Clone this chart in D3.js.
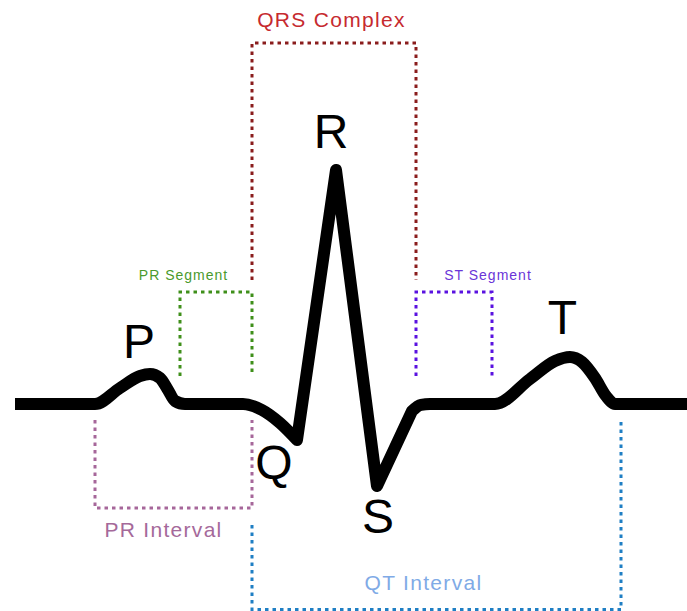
<!DOCTYPE html>
<html>
<head>
<meta charset="utf-8">
<script src="https://cdn.jsdelivr.net/npm/d3@7"></script>
<style>
  html, body { margin: 0; padding: 0; background: #ffffff; }
  svg { display: block; }
  text { font-family: "Liberation Sans", Arial, Helvetica, sans-serif; }
</style>
</head>
<body>
<script>
// ---- Data (time in ms, amplitude in mV) ----
const pWaveT = [0, 80, 105, 125, 135, 145, 153, 160, 170, 200];
const pWaveV = [0, 0, 0.08, 0.14, 0.15, 0.13, 0.07, 0.015, 0, 0];

const qApproachT = [200, 228, 247, 265, 282];
const qApproachV = [0, 0, -0.03, -0.095, -0.18];

const qrsT = [282, 321, 362, 397];
const qrsV = [-0.18, 1.17, -0.41, -0.035];

const stTWaveT = [397, 406, 415, 480, 515, 540, 555, 567, 580, 591, 600, 672];
const stTWaveV = [-0.035, -0.004, 0, 0, 0.125, 0.215, 0.235, 0.21, 0.13, 0.04, 0, 0];

const waveLabels = ["P", "Q", "R", "S", "T"];
const waveLabelT = [124, 259, 316, 363, 547.5];
const waveLabelV = [0.23, -0.375, 1.28, -0.645, 0.35];

const bracketNames = ["QRS Complex", "PR Segment", "ST Segment", "PR Interval", "QT Interval"];
const bracketStartT = [237, 165, 401, 80, 237];
const bracketEndT = [401, 237, 477, 237, 606];
const bracketBarV = [1.805, 0.56, 0.56, -0.52, -1.0275];
const bracketStartLegV = [0.62, 0.14, 0.14, -0.08, -0.605];
const bracketEndLegV = [0.62, 0.14, 0.14, -0.08, -0.08];
const bracketLabelT = [316.5, 168.5, 473, 148.5, 408.5];
const bracketLabelV = [1.885, 0.62, 0.62, -0.665, -0.93];
const bracketLabelSize = [21, 14, 14, 21, 21];
const bracketLineColor = ["#8a1c1c", "#3f8f1a", "#5a12e0", "#a6679a", "#1f7fc4"];
const bracketTextColor = ["#c62a2f", "#4a9a2c", "#6a35d8", "#a5699a", "#80aae6"];

// ---- Chart ----
const W = 687, H = 611;
const svg = d3.select("body").append("svg").attr("width", W).attr("height", H);
svg.append("rect").attr("width", W).attr("height", H).attr("fill", "#ffffff");

const xScale = d3.scaleLinear().domain([0, 672]).range([15, 687]);
const yScale = d3.scaleLinear().domain([0, 1]).range([404, 204]);

const zip = (ts, vs) => ts.map((t, i) => [t, vs[i]]);
const curveLine = d3.line().x(d => xScale(d[0])).y(d => yScale(d[1])).curve(d3.curveMonotoneX);
const straightLine = d3.line().x(d => xScale(d[0])).y(d => yScale(d[1])).curve(d3.curveLinear);
const cont = s => s.replace(/^M/, "L");

// brackets
const bracketG = svg.append("g");
bracketNames.forEach((name, i) => {
  const pts = [
    [bracketStartT[i], bracketStartLegV[i]],
    [bracketStartT[i], bracketBarV[i]],
    [bracketEndT[i], bracketBarV[i]],
    [bracketEndT[i], bracketEndLegV[i]]
  ];
  bracketG.append("path")
    .attr("d", straightLine(pts))
    .attr("fill", "none")
    .attr("stroke", bracketLineColor[i])
    .attr("stroke-width", 3)
    .attr("stroke-dasharray", "3.5,4");
  bracketG.append("text")
    .attr("x", xScale(bracketLabelT[i]))
    .attr("y", yScale(bracketLabelV[i]))
    .attr("text-anchor", "middle")
    .attr("font-size", bracketLabelSize[i])
    .attr("letter-spacing", bracketLabelSize[i] > 16 ? 1.3 : 1.0)
    .attr("fill", bracketTextColor[i])
    .text(name);
});

// ECG trace
const traceG = svg.append("g")
  .attr("fill", "none")
  .attr("stroke", "#000000")
  .attr("stroke-width", 12)
  .attr("stroke-linejoin", "round");

traceG.append("path").attr("d", curveLine(zip(pWaveT, pWaveV)));

const d2 = curveLine(zip(qApproachT, qApproachV))
  + cont(straightLine(zip(qrsT, qrsV)))
  + cont(curveLine(zip(stTWaveT, stTWaveV)));
traceG.append("path").attr("d", d2);

// wave labels
svg.append("g").selectAll("text")
  .data(waveLabels)
  .join("text")
  .attr("x", (d, i) => xScale(waveLabelT[i]))
  .attr("y", (d, i) => yScale(waveLabelV[i]))
  .attr("text-anchor", "middle")
  .attr("font-size", 48)
  .attr("fill", "#000000")
  .text(d => d);
</script>
</body>
</html>
